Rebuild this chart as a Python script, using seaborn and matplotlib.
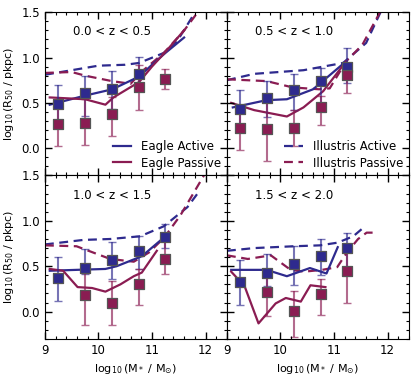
import numpy as np
import pandas as pd
import matplotlib
matplotlib.use("Agg")
import matplotlib.pyplot as plt
import seaborn as sns
from matplotlib.lines import Line2D
from matplotlib.ticker import MultipleLocator, FixedLocator

plt.rcParams['font.family'] = ['DejaVu Sans']
plt.rcParams.update({
    'xtick.direction': 'in', 'ytick.direction': 'in',
    'xtick.top': True, 'ytick.right': True,
    'xtick.major.size': 5, 'ytick.major.size': 5,
    'xtick.minor.size': 2.5, 'ytick.minor.size': 2.5,
    'xtick.major.width': 1.0, 'ytick.major.width': 1.0,
    'xtick.minor.width': 0.8, 'ytick.minor.width': 0.8,
})

ACT = '#2e2a8e'
PAS = '#8a1c52'

titles = ["0.0 < z < 0.5", "0.5 < z < 1.0", "1.0 < z < 1.5", "1.5 < z < 2.0"]
bins = [9.25, 9.75, 10.25, 10.75, 11.25]

# binned points (squares) with error bars
act_y  = [[0.49, 0.61, 0.65, 0.82, np.nan],
          [0.43, 0.55, 0.64, 0.74, 0.89],
          [0.37, 0.48, 0.57, 0.67, 0.82],
          [0.33, 0.42, 0.52, 0.61, 0.70]]
act_lo = [[0.28, 0.36, 0.43, 0.63, np.nan],
          [0.19, 0.34, 0.42, 0.50, 0.72],
          [0.12, 0.41, 0.36, 0.47, 0.70],
          [0.07, 0.28, 0.29, 0.40, 0.48]]
act_hi = [[0.70, 0.80, 0.85, 1.01, np.nan],
          [0.64, 0.74, 0.82, 0.88, 1.11],
          [0.60, 0.69, 0.77, 0.83, 0.96],
          [0.57, 0.64, 0.72, 0.80, 0.87]]
pas_y  = [[0.27, 0.28, 0.38, 0.67, 0.76],
          [0.22, 0.21, 0.22, 0.45, 0.81],
          [np.nan, 0.18, 0.09, 0.30, 0.58],
          [np.nan, 0.22, 0.01, 0.19, 0.45]]
pas_lo = [[0.03, 0.04, 0.13, 0.42, 0.65],
          [-0.02, -0.14, 0.02, 0.26, 0.61],
          [np.nan, -0.15, -0.15, 0.07, 0.41],
          [np.nan, -0.05, -0.28, -0.04, 0.10]]
pas_hi = [[0.52, 0.54, 0.57, 0.92, 0.87],
          [0.42, 0.52, 0.42, 0.58, 0.92],
          [np.nan, 0.43, 0.34, 0.47, 0.80],
          [np.nan, 0.40, 0.23, 0.36, 0.70]]

# Eagle median lines (solid)
eag_act_x = [[9.09, 9.75, 10.26, 10.76, 11.0, 11.25, 11.6],
             [9.11, 9.74, 10.12, 10.61, 11.23],
             [9.09, 9.59, 10.13, 10.34, 10.81, 11.25],
             [9.08, 9.74, 10.12, 10.55, 10.86, 11.07]]
eag_act_y = [[0.48, 0.58, 0.65, 0.79, 0.92, 1.05, 1.22],
             [0.45, 0.53, 0.54, 0.65, 0.96],
             [0.45, 0.46, 0.47, 0.50, 0.61, 0.83],
             [0.46, 0.46, 0.39, 0.48, 0.42, 0.71]]
eag_pas_x = [[9.09, 9.75, 10.13, 10.28, 10.76, 11.0, 11.25, 11.6],
             [9.08, 9.51, 10.12, 10.43, 10.80, 11.23],
             [9.09, 9.34, 9.61, 9.88, 10.13, 10.41, 10.66, 10.81, 11.09],
             [9.08, 9.33, 9.59, 9.91, 10.10, 10.38, 10.56, 10.84]]
eag_pas_y = [[0.56, 0.54, 0.48, 0.56, 0.73, 0.90, 1.06, 1.30],
             [0.50, 0.42, 0.35, 0.45, 0.63, 0.96],
             [0.47, 0.45, 0.27, 0.26, 0.22, 0.30, 0.39, 0.43, 0.67],
             [0.44, 0.28, -0.13, 0.09, 0.15, 0.11, 0.29, 0.27]]

# Illustris median lines (dashed)
ill_act_x = [[9.0, 9.5, 10.0, 10.5, 10.76, 11.22, 11.47, 11.66, 11.86],
             [9.0, 9.51, 10.43, 11.17, 11.60, 11.87],
             [9.0, 9.72, 10.22, 10.78, 11.22, 11.66, 11.85],
             [9.0, 9.51, 10.25, 10.74, 11.07, 11.36, 11.54]]
ill_act_y = [[0.81, 0.86, 0.91, 0.92, 0.94, 1.05, 1.18, 1.36, 1.55],
             [0.75, 0.82, 0.86, 0.94, 1.16, 1.50],
             [0.74, 0.79, 0.80, 0.83, 0.94, 1.15, 1.30],
             [0.67, 0.70, 0.72, 0.73, 0.76, 0.83, 0.92]]
ill_pas_x = [[9.0, 9.5, 9.75, 10.25, 10.6, 10.8, 11.22, 11.59, 11.92],
             [9.0, 9.74, 10.23, 10.72, 10.92, 11.23, 11.53, 11.86],
             [9.0, 9.59, 10.22, 10.66, 10.94, 11.22, 11.53, 11.99],
             [9.0, 9.39, 9.82, 10.19, 10.44, 10.78, 11.06, 11.24, 11.45, 11.61, 11.82]]
ill_pas_y = [[0.83, 0.84, 0.80, 0.74, 0.71, 0.84, 1.05, 1.29, 1.55],
             [0.76, 0.74, 0.67, 0.65, 0.66, 0.96, 1.14, 1.50],
             [0.73, 0.72, 0.58, 0.55, 0.65, 0.81, 1.06, 1.52],
             [0.62, 0.58, 0.62, 0.46, 0.44, 0.46, 0.49, 0.65, 0.80, 0.87, 0.87]]

fig, axes = plt.subplots(2, 2, figsize=(4.16, 3.79), dpi=100, sharex=True, sharey=True)
fig.subplots_adjust(left=0.108, right=0.983, top=0.968, bottom=0.106, wspace=0, hspace=0)

FS = 8.5
DASH = (0, (4, 2.5))
for i, ax in enumerate(axes.flat):
    sns.lineplot(x=ill_act_x[i], y=ill_act_y[i], ax=ax, color=ACT, lw=1.6,
                 linestyle=DASH, estimator=None, sort=False)
    sns.lineplot(x=ill_pas_x[i], y=ill_pas_y[i], ax=ax, color=PAS, lw=1.6,
                 linestyle=DASH, estimator=None, sort=False)
    sns.lineplot(x=eag_act_x[i], y=eag_act_y[i], ax=ax, color=ACT, lw=1.6,
                 estimator=None, sort=False)
    sns.lineplot(x=eag_pas_x[i], y=eag_pas_y[i], ax=ax, color=PAS, lw=1.6,
                 estimator=None, sort=False)

    for yv, lo, hi, col in [(act_y[i], act_lo[i], act_hi[i], ACT),
                            (pas_y[i], pas_lo[i], pas_hi[i], PAS)]:
        yv = np.array(yv); lo = np.array(lo); hi = np.array(hi)
        err = np.vstack([yv - lo, hi - yv])
        ax.errorbar(bins, yv, yerr=err, fmt='none', ecolor=col, alpha=0.65,
                    capsize=3)
        sns.scatterplot(x=bins, y=yv, ax=ax, marker='s', s=55, color=col,
                        edgecolor='#555555', linewidth=0.9, zorder=5)

    ax.text(0.37, 0.88, titles[i], transform=ax.transAxes, ha='center', va='center',
            fontsize=FS)
    ax.set_xlabel('')
    ax.set_ylabel('')

h1 = [Line2D([], [], color=ACT, lw=1.6), Line2D([], [], color=PAS, lw=1.6)]
axes[0, 0].legend(h1, ['Eagle Active', 'Eagle Passive'], loc='lower right',
                  frameon=False, fontsize=FS, handlelength=1.6,
                  borderaxespad=0.1, labelspacing=0.3)
h2 = [Line2D([], [], color=ACT, lw=1.6, linestyle=DASH),
      Line2D([], [], color=PAS, lw=1.6, linestyle=DASH)]
axes[0, 1].legend(h2, ['Illustris Active', 'Illustris Passive'], loc='lower right',
                  frameon=False, fontsize=FS, handlelength=1.6,
                  borderaxespad=0.1, labelspacing=0.3)

for ax in axes.flat:
    ax.set_xlim(9, 12.4)
    ax.set_ylim(-0.3, 1.5)
    ax.xaxis.set_major_locator(FixedLocator([9, 10, 11, 12]))
    ax.yaxis.set_major_locator(FixedLocator([0.0, 0.5, 1.0, 1.5]))
    ax.xaxis.set_minor_locator(MultipleLocator(0.2))
    ax.yaxis.set_minor_locator(MultipleLocator(0.1))
    ax.set_axisbelow(False)
    ax.tick_params(which='major', direction='in', top=True, right=True,
                   bottom=True, left=True, length=5, width=1.0, labelsize=FS,
                   color='black')
    ax.tick_params(which='minor', direction='in', top=True, right=True,
                   bottom=True, left=True, length=2.5, width=0.8, color='black')

for ax in axes[:, 0]:
    ax.set_ylabel(r'$\log_{10}$(R$_{50}$ / pkpc)', fontsize=8)
for ax in axes[1, :]:
    ax.set_xlabel(r'$\log_{10}$(M$_*$ / M$_{\odot}$)', fontsize=8)

# make sure the tick marks themselves are drawn
fig.canvas.draw()
for ax in axes.flat:
    for axis in (ax.xaxis, ax.yaxis):
        for ticks, size, width in ((axis.get_major_ticks(), 5, 1.0),
                                   (axis.get_minor_ticks(), 2.5, 0.8)):
            for t in ticks:
                for ln in (t.tick1line, t.tick2line):
                    ln.set_visible(True)
                    ln.set_markersize(size)
                    ln.set_markeredgewidth(width)
                    ln.set_color('black')
                    ln.set_markeredgecolor('black')
                    ln.set_alpha(1.0)
                    ln.set_zorder(20)

fig.savefig('out.png', dpi=100)
